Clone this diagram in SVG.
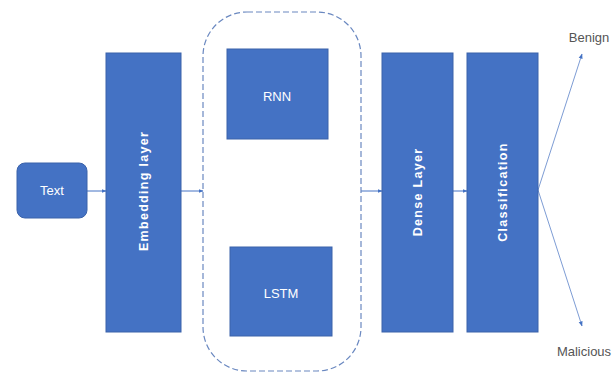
<svg xmlns="http://www.w3.org/2000/svg" width="616" height="373" viewBox="0 0 616 373">
<style>
.box{fill:#4472C4;stroke:#3A62AA;stroke-width:1}
.lbl{fill:#fff;font-family:"Liberation Sans Narrow","Liberation Sans",sans-serif;font-size:13px;text-anchor:middle;dominant-baseline:central}
.vlbl{fill:#fff;font-family:"Liberation Sans",sans-serif;font-size:12.5px;font-weight:bold;letter-spacing:1.3px;text-anchor:middle;dominant-baseline:central}
.out{fill:#555;font-family:"Liberation Sans Narrow","Liberation Sans",sans-serif;font-size:13px;text-anchor:middle;dominant-baseline:central}
.conn{stroke:#4472C4;stroke-width:1;fill:none;marker-end:url(#ah)}
.conn2{stroke:#7D9CD4;stroke-width:1;fill:none;marker-end:url(#ah)}
</style>
<defs>
<marker id="ah" viewBox="0 0 10 10" refX="9" refY="5" markerWidth="5" markerHeight="5" orient="auto">
<path d="M0,1 L10,5 L0,9 z" fill="#4472C4"/>
</marker>
</defs>
<rect width="616" height="373" fill="#fff"/>
<g id="connectors">
<line class="conn" x1="87" y1="191" x2="106" y2="191"/>
<line class="conn" x1="181" y1="191" x2="203" y2="191"/>
<line class="conn" x1="361" y1="191" x2="382" y2="191"/>
<line class="conn" x1="453" y1="191" x2="467" y2="191"/>
<line class="conn2" x1="538" y1="190" x2="582" y2="54"/>
<line class="conn2" x1="538" y1="190" x2="582" y2="326"/>
</g>
<g id="group-rnn-lstm">
<rect x="203" y="12" width="158" height="359" rx="44" fill="none" stroke="#6A88C0" stroke-width="1.2" stroke-dasharray="6,3"/>
</g>
<g id="text">
<rect class="box" x="17" y="163" width="70" height="55" rx="8"/>
<text class="lbl" x="52" y="190">Text</text>
</g>
<g id="embedding">
<rect class="box" x="106" y="53" width="75" height="279"/>
<text class="vlbl" transform="translate(144,191) rotate(-90)">Embedding layer</text>
</g>
<g id="rnn">
<rect class="box" x="227" y="49" width="101" height="90"/>
<text class="lbl" x="277" y="96">RNN</text>
</g>
<g id="lstm">
<rect class="box" x="230" y="247" width="102" height="89"/>
<text class="lbl" x="281" y="293">LSTM</text>
</g>
<g id="dense">
<rect class="box" x="382" y="53" width="71" height="279"/>
<text class="vlbl" transform="translate(418,192) rotate(-90)">Dense Layer</text>
</g>
<g id="classification">
<rect class="box" x="467" y="53" width="71" height="279"/>
<text class="vlbl" transform="translate(503,192) rotate(-90)">Classification</text>
</g>
<g id="benign">
<text class="out" x="589" y="37">Benign</text>
</g>
<g id="malicious">
<text class="out" x="584" y="351">Malicious</text>
</g>
</svg>
